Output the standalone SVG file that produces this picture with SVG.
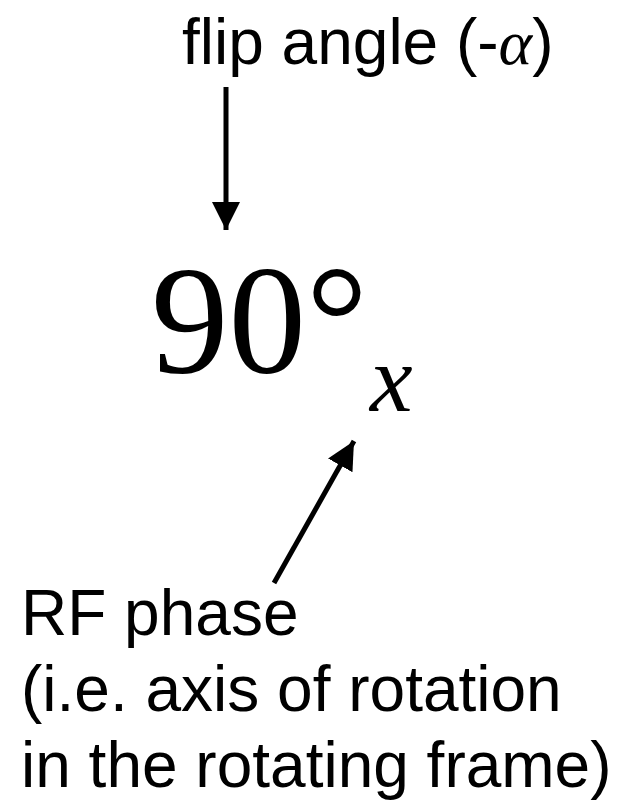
<svg xmlns="http://www.w3.org/2000/svg" width="631" height="801" viewBox="0 0 631 801">
<defs>
<style>
.sans{font-family:"Liberation Sans",Arial,sans-serif;font-size:64px;fill:#000}
.serif{font-family:"Liberation Serif","Times New Roman",serif;fill:#000}
.conn{stroke:#000;stroke-width:5;fill:none}
</style>
<marker id="ah" markerUnits="userSpaceOnUse" markerWidth="30" markerHeight="30" viewBox="0 0 30 30" refX="28" refY="14" orient="auto">
<path d="M0,0 L28,14 L0,28 Z" fill="#000"/>
</marker>
</defs>
<rect width="631" height="801" fill="#fff"/>
<g id="flip-label">
<text class="sans" x="182" y="64">flip angle (-<tspan class="serif" font-style="italic">α</tspan>)</text>
</g>
<g id="pulse">
<text class="serif" x="151" y="372" font-size="155">90°</text>
<text class="serif" x="370" y="411" font-size="96" font-style="italic">x</text>
</g>
<g id="phase-label">
<text class="sans" x="21" y="635">RF phase</text>
<text class="sans" x="21" y="711">(i.e. axis of rotation</text>
<text class="sans" x="21" y="787">in the rotating frame)</text>
</g>
<g id="connectors">
<line class="conn" x1="226" y1="87" x2="226" y2="230" marker-end="url(#ah)"/>
<line class="conn" x1="274" y1="583" x2="354" y2="441" marker-end="url(#ah)"/>
</g>
</svg>
